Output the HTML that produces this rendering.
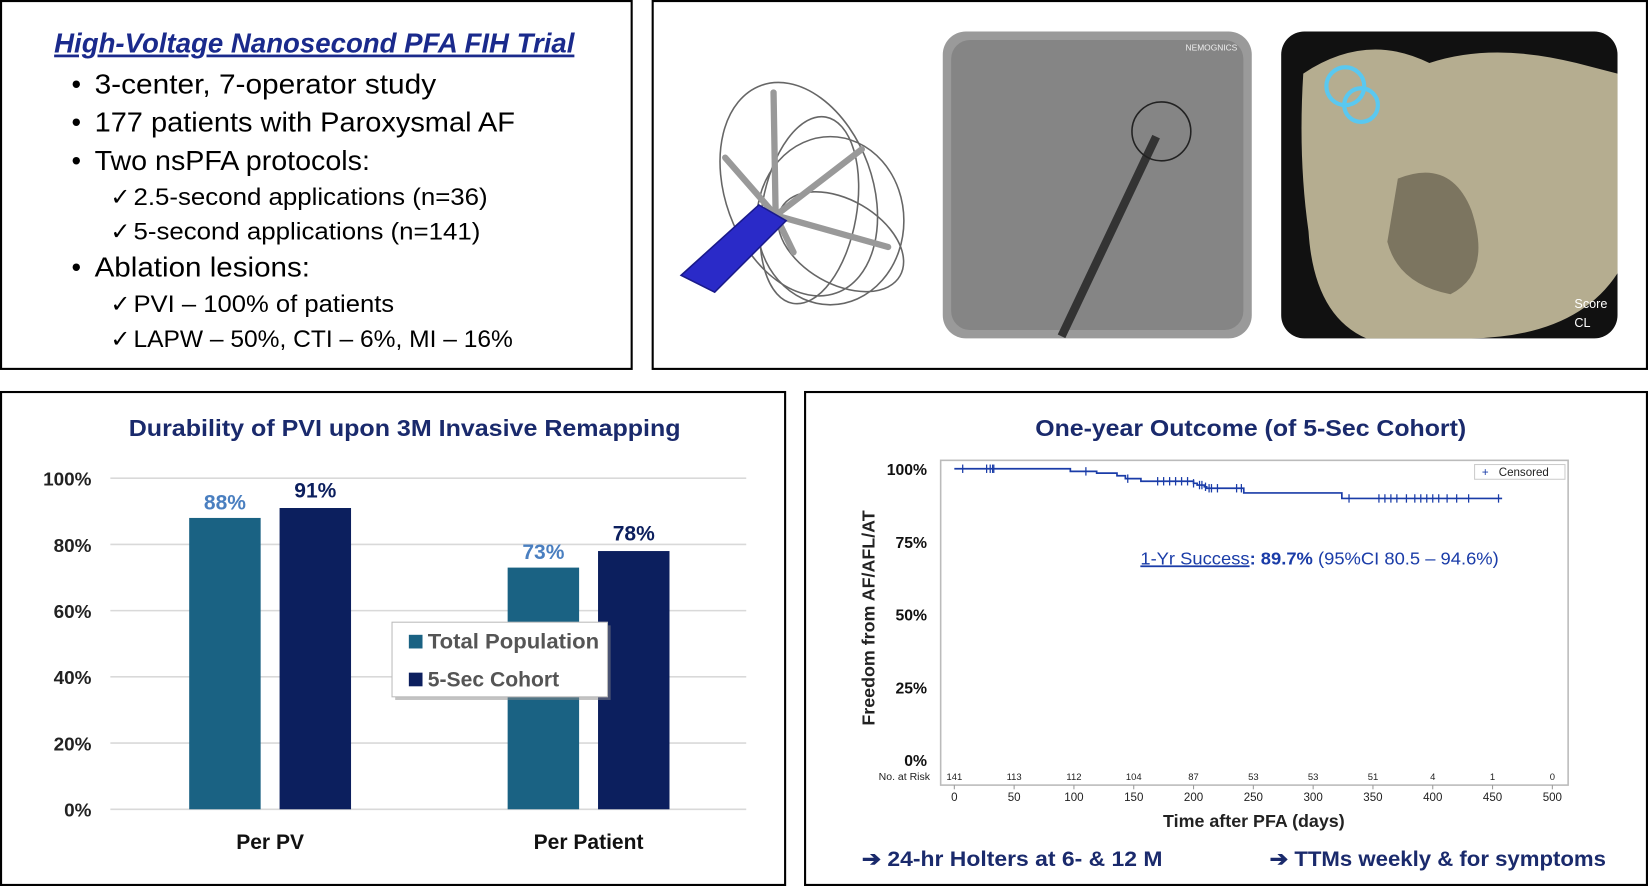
<!DOCTYPE html>
<html><head><meta charset="utf-8"><style>
html,body{margin:0;padding:0;background:#fff;width:1648px;height:886px;overflow:hidden}
svg{display:block;font-family:"Liberation Sans",sans-serif}
</style></head><body>
<svg id="s" width="1648" height="886" viewBox="0 0 1568 843" preserveAspectRatio="none">
<!-- panel frames -->
<rect x="1" y="1" width="600" height="350" fill="none" stroke="#000" stroke-width="2"/>
<rect x="621" y="1" width="946" height="350" fill="none" stroke="#000" stroke-width="2"/>
<rect x="1" y="373" width="746" height="469" fill="none" stroke="#000" stroke-width="2"/>
<rect x="766" y="373" width="801" height="469" fill="none" stroke="#000" stroke-width="2"/>

<!-- summary text -->
<g fill="#000">
<text x="299" y="50" text-anchor="middle" font-size="26" font-weight="bold" font-style="italic" fill="#1a2a8c" text-decoration="underline" textLength="495" lengthAdjust="spacingAndGlyphs">High-Voltage Nanosecond PFA FIH Trial</text>
<g font-size="26">
<text x="68" y="89">•</text><text x="90" y="89" textLength="325" lengthAdjust="spacingAndGlyphs">3-center, 7-operator study</text>
<text x="68" y="125">•</text><text x="90" y="125" textLength="400" lengthAdjust="spacingAndGlyphs">177 patients with Paroxysmal AF</text>
<text x="68" y="162">•</text><text x="90" y="162" textLength="262" lengthAdjust="spacingAndGlyphs">Two nsPFA protocols:</text>
<text x="68" y="263">•</text><text x="90" y="263" textLength="205" lengthAdjust="spacingAndGlyphs">Ablation lesions:</text>
</g>
<g font-size="23">
<text x="105" y="195">✓</text><text x="127" y="195" textLength="337" lengthAdjust="spacingAndGlyphs">2.5-second applications (n=36)</text>
<text x="105" y="228">✓</text><text x="127" y="228" textLength="330" lengthAdjust="spacingAndGlyphs">5-second applications (n=141)</text>
<text x="105" y="297">✓</text><text x="127" y="297" textLength="248" lengthAdjust="spacingAndGlyphs">PVI – 100% of patients</text>
<text x="105" y="330">✓</text><text x="127" y="330" textLength="361" lengthAdjust="spacingAndGlyphs">LAPW – 50%, CTI – 6%, MI – 16%</text>
</g>
</g>

<!-- images -->
<g fill="none" stroke="#666" stroke-width="1.5">
<ellipse cx="760" cy="180" rx="70" ry="105" transform="rotate(-20 760 180)"/>
<ellipse cx="790" cy="210" rx="70" ry="80"/>
<ellipse cx="770" cy="200" rx="45" ry="90" transform="rotate(10 770 200)"/>
<ellipse cx="800" cy="230" rx="65" ry="40" transform="rotate(30 800 230)"/>
<g stroke="#999" stroke-width="6" stroke-linecap="round">
<line x1="738" y1="205" x2="736" y2="88"/><line x1="738" y1="205" x2="690" y2="150"/><line x1="738" y1="205" x2="820" y2="142"/><line x1="738" y1="205" x2="845" y2="235"/><line x1="738" y1="205" x2="755" y2="240"/>
</g>
<polygon points="722,195 748,210 680,278 648,262" fill="#2a2ac8" stroke="#1a1a8a"/>
</g>
<g>
<rect x="897" y="30" width="294" height="292" rx="22" fill="#9a9a9a"/>
<rect x="905" y="38" width="278" height="276" rx="18" fill="#858585"/>
<path d="M1010 320 L1100 130" stroke="#333" stroke-width="8" fill="none"/>
<circle cx="1105" cy="125" r="28" fill="none" stroke="#222" stroke-width="1.5"/>
<text x="1128" y="48" font-size="8" fill="#eee">NEMOGNICS</text>
</g>
<g>
<rect x="1219" y="30" width="320" height="292" rx="22" fill="#111"/>
<path d="M1240 70 Q1300 30 1360 60 Q1420 40 1500 60 L1539 70 L1539 260 Q1500 320 1400 322 L1300 322 Q1250 300 1245 220 Q1235 150 1240 70Z" fill="#b5ad90"/>
<path d="M1330 170 Q1380 150 1400 200 Q1420 260 1380 280 Q1330 270 1320 230Z" fill="#7c7560"/>
<circle cx="1280" cy="82" r="18" fill="none" stroke="#5ac8f0" stroke-width="4"/>
<circle cx="1295" cy="100" r="16" fill="none" stroke="#5ac8f0" stroke-width="4"/>
<text x="1498" y="293" font-size="12" fill="#fff">Score</text><text x="1498" y="311" font-size="12" fill="#fff">CL</text>
</g>

<!-- bar chart -->
<text x="385" y="415" text-anchor="middle" font-size="22" font-weight="bold" fill="#1a2a6c" textLength="525" lengthAdjust="spacingAndGlyphs">Durability of PVI upon 3M Invasive Remapping</text>
<g id="bars"></g>

<!-- KM chart -->
<text x="1190" y="415" text-anchor="middle" font-size="22" font-weight="bold" fill="#1a2a6c" textLength="410" lengthAdjust="spacingAndGlyphs">One-year Outcome (of 5-Sec Cohort)</text>
<g id="km"></g>

<g font-size="20" font-weight="bold" fill="#1a2a6c">
<text x="820" y="824" textLength="286" lengthAdjust="spacingAndGlyphs">➔ 24-hr Holters at 6- &amp; 12 M</text>
<text x="1208" y="824" textLength="320" lengthAdjust="spacingAndGlyphs">➔ TTMs weekly &amp; for symptoms</text>
</g>
</svg>
<script>
const NS='http://www.w3.org/2000/svg';
function mk(p,t,a,txt){const e=document.createElementNS(NS,t);for(const k in a)e.setAttribute(k,a[k]);if(txt!==undefined)e.textContent=txt;p.appendChild(e);return e;}

// ---- bar chart data ----
const barCategories=['Per PV','Per Patient'];
const totalPopulation=[88,73];
const fiveSecCohort=[91,78];
const barTicks=[0,20,40,60,80,100];

const bg=document.getElementById('bars');
const by=v=>770-v*3.15;
const catCenter=i=>257+i*303;
barTicks.forEach(t=>{
  const l=mk(bg,'line',{x1:105,x2:710,y1:by(t),y2:by(t),stroke:'#d9d9d9','stroke-width':1.5});
  
  
  const tx=mk(bg,'text',{x:87,y:by(t)+7,'text-anchor':'end','font-size':18,'font-weight':'bold',fill:'#222'},t+'%');
  
  
});
barCategories.forEach((c,i)=>{
  const cx=catCenter(i);
  const a=mk(bg,'rect',{x:cx-77,y:by(totalPopulation[i]),width:68,height:totalPopulation[i]*3.15,fill:'#1a6283'});
  
  
  const b=mk(bg,'rect',{x:cx+9,y:by(fiveSecCohort[i]),width:68,height:fiveSecCohort[i]*3.15,fill:'#0c1f5e'});
  
  
  const la=mk(bg,'text',{x:cx-43,y:by(totalPopulation[i])-8,'text-anchor':'middle','font-size':20,'font-weight':'bold',fill:'#4a7fc0'},totalPopulation[i]+'%');
  
  
  const lb=mk(bg,'text',{x:cx+43,y:by(fiveSecCohort[i])-10,'text-anchor':'middle','font-size':20,'font-weight':'bold',fill:'#0c1f5e'},fiveSecCohort[i]+'%');
  
  
  const cl=mk(bg,'text',{x:cx,y:808,'text-anchor':'middle','font-size':20,'font-weight':'bold',fill:'#111'},c);
  
  
});
const lg=mk(bg,'g',{});


mk(lg,'rect',{x:376,y:595,width:205,height:71,fill:'#888',opacity:0.5});
mk(lg,'rect',{x:373,y:592,width:205,height:71,fill:'#fff',stroke:'#bbb'});
mk(lg,'rect',{x:389,y:604,width:13,height:13,fill:'#1a6283'});
mk(lg,'text',{x:407,y:617,'font-size':20,'font-weight':'bold',fill:'#555',textLength:163,lengthAdjust:'spacingAndGlyphs'},'Total Population');
mk(lg,'rect',{x:389,y:640,width:13,height:13,fill:'#0c1f5e'});
mk(lg,'text',{x:407,y:653,'font-size':20,'font-weight':'bold',fill:'#555',textLength:125,lengthAdjust:'spacingAndGlyphs'},'5-Sec Cohort');

// ---- KM data ----
const stepDays=[0,97,119,136,143,156,200,203,209,211,242,324,458];
const survival=[100,99.1,98.5,97.6,96.6,95.7,95.0,94.4,93.8,93.3,91.7,89.8,89.8];
const censorDays=[7,27,30,32,33,110,145,170,175,180,185,190,195,200,205,207,210,213,215,220,236,240,330,355,360,365,370,378,385,390,395,400,405,412,420,430,455];
const riskDays=[0,50,100,150,200,250,300,350,400,450,500];
const atRisk=[141,113,112,104,87,53,53,51,4,1,0];
const yTicksKM=[0,25,50,75,100];

const kg=document.getElementById('km');
const kx=d=>908+d*1.138;
const ky=v=>723-v*2.77;
const fr=mk(kg,'rect',{x:895,y:438,width:597,height:309,fill:'none',stroke:'#bbb','stroke-width':1.5});


yTicksKM.forEach(t=>{
  const tx=mk(kg,'text',{x:882,y:ky(t)+6,'text-anchor':'end','font-size':15,'font-weight':'bold',fill:'#111'},t+'%');
  
  
});
riskDays.forEach((d,i)=>{
  const tx=mk(kg,'text',{x:kx(d),y:762,'text-anchor':'middle','font-size':11,fill:'#222'},d);
  
  
  const r=mk(kg,'text',{x:kx(d),y:742,'text-anchor':'middle','font-size':9,fill:'#222'},atRisk[i]);
  
  
  mk(kg,'line',{x1:kx(d),x2:kx(d),y1:747,y2:751,stroke:'#999'});
});
mk(kg,'text',{x:836,y:742,'font-size':10,fill:'#222'},'No. at Risk');
const xt=mk(kg,'text',{x:1193,y:787,'text-anchor':'middle','font-size':17,'font-weight':'bold',fill:'#222'},'Time after PFA (days)');


const yt=mk(kg,'text',{x:0,y:0,'text-anchor':'middle','font-size':17,'font-weight':'bold',fill:'#222',transform:'translate(832,588) rotate(-90)'},'Freedom from AF/AFL/AT');


let d='M'+kx(stepDays[0])+' '+ky(survival[0]);
for(let i=1;i<stepDays.length;i++){d+=' H'+kx(stepDays[i])+' V'+ky(survival[i]);}
const line=mk(kg,'path',{d:d,fill:'none',stroke:'#1a3ca8','stroke-width':1.6});


function survAt(day){let v=survival[0];for(let i=0;i<stepDays.length;i++){if(stepDays[i]<=day)v=survival[i];}return v;}
censorDays.forEach(c=>{
  const m=mk(kg,'line',{x1:kx(c),x2:kx(c),y1:ky(survAt(c))-4,y2:ky(survAt(c))+4,stroke:'#1a3ca8','stroke-width':1.2});
  
  
});
const lb=mk(kg,'g',{});


mk(lb,'rect',{x:1403,y:442,width:86,height:14,fill:'#fff',stroke:'#ccc'});
mk(lb,'text',{x:1410,y:453,'font-size':11,fill:'#1a3ca8'},'+');
mk(lb,'text',{x:1426,y:453,'font-size':11,fill:'#222'},'Censored');
const an=mk(kg,'text',{x:1085,y:537,'font-size':17,fill:'#1a3ca8',textLength:341,lengthAdjust:'spacingAndGlyphs'},'');


an.innerHTML='<tspan text-decoration="underline">1-Yr Success</tspan><tspan font-weight="bold">: 89.7%</tspan> (95%CI 80.5 – 94.6%)';
</script>
</body></html>
